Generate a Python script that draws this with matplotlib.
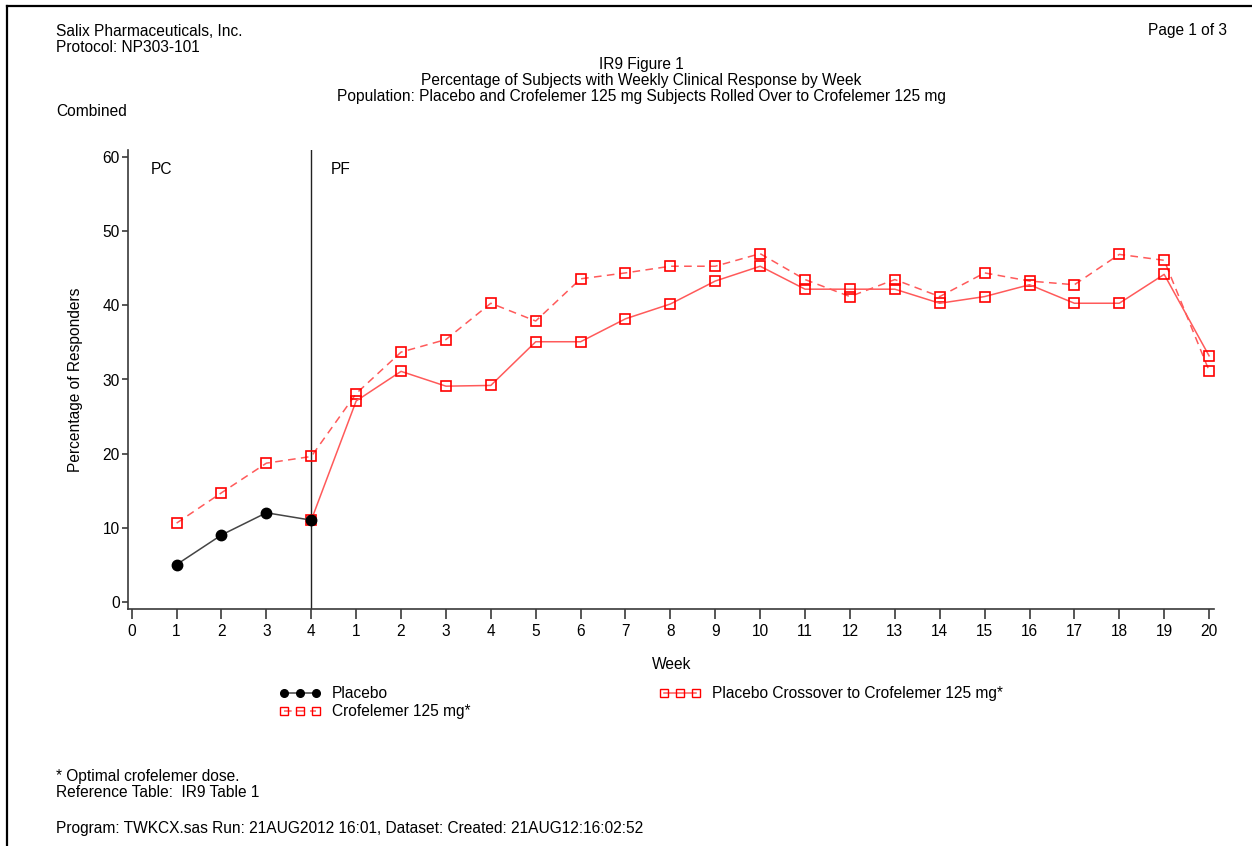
import matplotlib
matplotlib.use('Agg')
import matplotlib.pyplot as plt
from matplotlib.lines import Line2D


W, H = 1252, 846

# x positions: 0-4 are PC weeks, 5-24 are PF weeks 1-20
tick_labels = ['0', '1', '2', '3', '4'] + [str(w) for w in range(1, 21)]

pc_weeks = [1, 2, 3, 4]
pf_weeks = list(range(1, 21))

placebo_pc = [5.0, 9.0, 12.0, 11.0]
crof_pc = [10.6, 14.7, 18.7, 19.6]
crof_pf = [28.1, 33.7, 35.4, 40.3, 37.9, 43.6, 44.4, 45.3, 45.3, 47.0,
           43.5, 41.2, 43.5, 41.2, 44.4, 43.3, 42.8, 46.9, 46.1, 31.2]
cross_start = 11.0
cross_pf = [27.1, 31.1, 29.1, 29.2, 35.1, 35.1, 38.2, 40.2, 43.3, 45.3,
            42.2, 42.2, 42.2, 40.3, 41.2, 42.8, 40.3, 40.3, 44.2, 33.2]


def fx(px):
    return px / W


def fy(py):
    return 1 - py / H


def main():
    plt.rcParams['font.family'] = ['Liberation Sans', 'DejaVu Sans']
    fs = 11.2
    axis_col = '#3a3a3a'
    red = '#ff0000'
    red_line = '#ff5a5a'

    fig = plt.figure(figsize=(W / 100, H / 100), dpi=100)
    ax = fig.add_axes([fx(128.3), fy(609), fx(1214) - fx(128.3), fy(150) - fy(609)])

    x_pc = pc_weeks
    x_pf = [4 + w for w in pf_weeks]

    # crofelemer 125 mg, dashed
    ax.plot(x_pc + x_pf, crof_pc + crof_pf, color=red_line, lw=1.1,
            ls=(0, (5, 3.5)), marker='s', ms=7.5, mfc='none', mec=red, mew=1.2,
            zorder=3)
    # placebo crossover, solid
    ax.plot([4] + x_pf, [cross_start] + cross_pf, color=red_line, lw=1.1,
            marker='s', ms=7.5, mfc='none', mec=red, mew=1.2, zorder=3)
    # placebo
    ax.plot(x_pc, placebo_pc, color='#444444', lw=1.1, marker='o', ms=7.5,
            mfc='black', mec='black', zorder=4)

    ax.axvline(4, color='#222222', lw=1.0, zorder=2)
    ax.text(0.43, 58.3, 'PC', fontsize=fs, va='center', ha='left')
    ax.text(4.44, 58.3, 'PF', fontsize=fs, va='center', ha='left')

    ax.set_xlim(-0.076, 24.11)
    ax.set_ylim(-1.0, 61.0)
    ax.set_xticks(range(25))
    ax.set_xticklabels(tick_labels)
    ax.set_yticks(range(0, 61, 10))
    for s in ['top', 'right']:
        ax.spines[s].set_visible(False)
    for s in ['left', 'bottom']:
        ax.spines[s].set_color(axis_col)
        ax.spines[s].set_linewidth(1.2)
    ax.tick_params(axis='x', length=7, width=1.2, color=axis_col, labelsize=fs, pad=4)
    ax.tick_params(axis='y', length=4, width=1.2, color=axis_col, labelsize=fs, pad=2)
    ax.set_xlabel('Week', fontsize=fs, labelpad=13)
    ax.set_ylabel('Percentage of Responders', fontsize=fs, labelpad=14)

    # legend
    h_pl = Line2D([], [], color='#444444', lw=1.1, marker='o', ms=5.5,
                  mfc='black', mec='black')
    h_cr = Line2D([], [], color=red_line, lw=1.1, ls=(0, (5, 3.5)), marker='s',
                  ms=6, mfc='none', mec=red, mew=1.0)
    h_cx = Line2D([], [], color=red_line, lw=1.1, marker='s', ms=6,
                  mfc='none', mec=red, mew=1.0)
    fig.legend([h_pl, h_cr, h_cx],
               ['Placebo', 'Crofelemer 125 mg*',
                'Placebo Crossover to Crofelemer 125 mg*'],
               loc='upper left', bbox_to_anchor=(fx(279), fy(686)),
               ncol=2, numpoints=3, frameon=False, fontsize=fs,
               handlelength=2.7, handletextpad=0.72, columnspacing=12.1,
               labelspacing=0.2, borderpad=0, borderaxespad=0)

    # page header
    fig.text(fx(56), fy(31), 'Salix Pharmaceuticals, Inc.', fontsize=fs, va='center')
    fig.text(fx(56), fy(47), 'Protocol: NP303-101', fontsize=fs, va='center')
    fig.text(fx(1227), fy(31), 'Page 1 of 3', fontsize=fs, va='center', ha='right')
    fig.text(fx(641), fy(64), 'IR9 Figure 1', fontsize=fs, va='center', ha='center')
    fig.text(fx(641), fy(80), 'Percentage of Subjects with Weekly Clinical Response by Week',
             fontsize=fs, va='center', ha='center')
    fig.text(fx(641), fy(97),
             'Population: Placebo and Crofelemer 125 mg Subjects Rolled Over to Crofelemer 125 mg',
             fontsize=fs, va='center', ha='center')
    fig.text(fx(56), fy(112), 'Combined', fontsize=fs, va='center')

    # footer
    fig.text(fx(56), fy(776), '* Optimal crofelemer dose.', fontsize=fs, va='center')
    fig.text(fx(56), fy(792), 'Reference Table:  IR9 Table 1', fontsize=fs, va='center')
    fig.text(fx(56), fy(828),
             'Program: TWKCX.sas Run: 21AUG2012 16:01, Dataset: Created: 21AUG12:16:02:52',
             fontsize=fs, va='center')

    # page border (top and left)
    fig.add_artist(Line2D([fx(7), 1], [fy(6), fy(6)], color='black', lw=1.6))
    fig.add_artist(Line2D([fx(7), fx(7)], [fy(6), 0], color='black', lw=1.6))

    fig.savefig('out.png', dpi=100)
    plt.close(fig)


if __name__ == '__main__':
    main()
